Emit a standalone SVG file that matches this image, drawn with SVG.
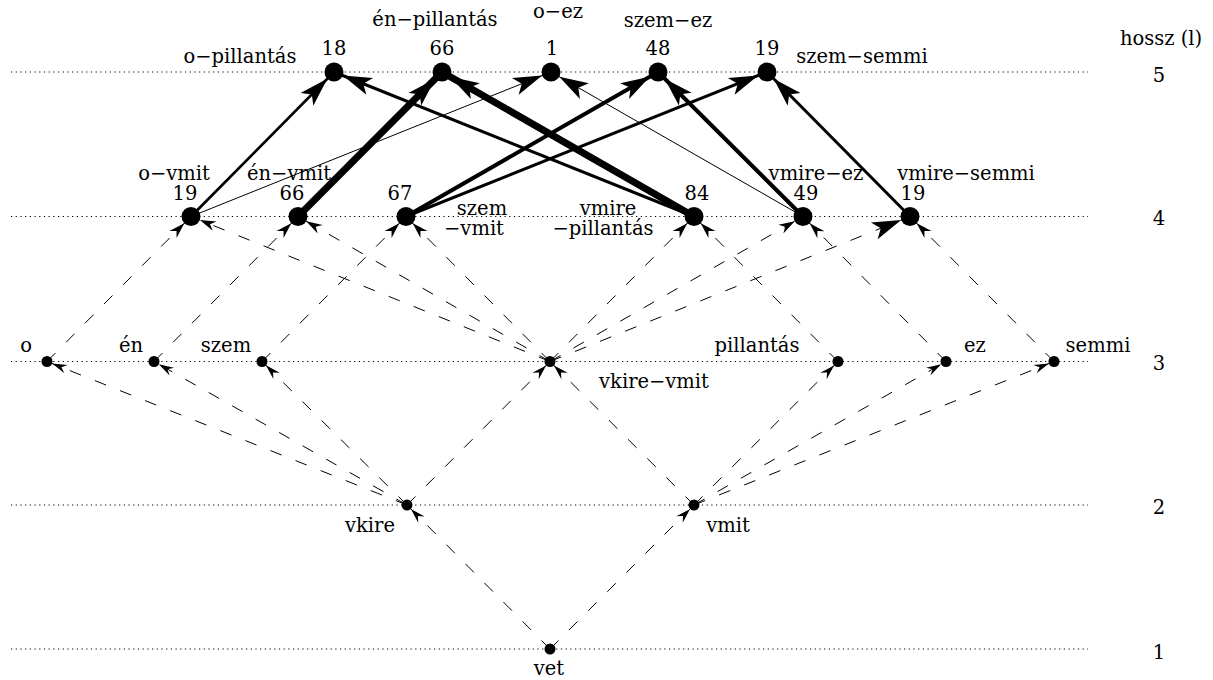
<svg xmlns="http://www.w3.org/2000/svg" width="1213" height="680" viewBox="0 0 1213 680">
<style>
.dot{stroke:#000;stroke-width:1.1;stroke-dasharray:1.2 3.5;fill:none}
.d{stroke:#000;stroke-width:1;stroke-dasharray:12 15;fill:none}
.s{stroke:#000;fill:none;marker-end:url(#ab)}
.n{fill:#000}
text{font-family:"DejaVu Serif","Liberation Serif",serif;font-size:19.5px;fill:#000;text-anchor:middle}
</style>
<defs>
<marker id="ab" markerUnits="userSpaceOnUse" orient="auto" refX="9.5" refY="0" markerWidth="1" markerHeight="1" overflow="visible"><path d="M0,0 L-29,-9 L-22,0 L-29,9 Z" fill="#000"/></marker>
<marker id="a4" markerUnits="userSpaceOnUse" orient="auto" refX="9.5" refY="0" markerWidth="1" markerHeight="1" overflow="visible"><path d="M0,0 L-16,-5 L-11,0 L-16,5 Z" fill="#000"/></marker>
<marker id="a3" markerUnits="userSpaceOnUse" orient="auto" refX="5.5" refY="0" markerWidth="1" markerHeight="1" overflow="visible"><path d="M0,0 L-15,-4.5 L-10,0 L-15,4.5 Z" fill="#000"/></marker>
</defs>
<g id="levels">
<line class="dot" x1="11" y1="72" x2="1088" y2="72"/>
<line class="dot" x1="11" y1="216.5" x2="1088" y2="216.5"/>
<line class="dot" x1="11" y1="361.5" x2="1088" y2="361.5"/>
<line class="dot" x1="11" y1="505" x2="1088" y2="505"/>
<line class="dot" x1="11" y1="649" x2="1088" y2="649"/>
</g>
<g id="connectors">
<g marker-end="url(#a3)">
<line class="d" x1="550" y1="649" x2="407" y2="505"/>
<line class="d" x1="550" y1="649" x2="694" y2="505"/>
<line class="d" x1="407" y1="505" x2="47" y2="361.5"/>
<line class="d" x1="407" y1="505" x2="154" y2="361.5"/>
<line class="d" x1="407" y1="505" x2="262" y2="361.5"/>
<line class="d" x1="407" y1="505" x2="550" y2="361.5"/>
<line class="d" x1="694" y1="505" x2="550" y2="361.5"/>
<line class="d" x1="694" y1="505" x2="838" y2="361.5"/>
<line class="d" x1="694" y1="505" x2="946" y2="361.5"/>
<line class="d" x1="694" y1="505" x2="1054" y2="361.5"/>
</g>
<g marker-end="url(#a4)">
<line class="d" x1="47" y1="361.5" x2="191" y2="216.5"/>
<line class="d" x1="550" y1="361.5" x2="191" y2="216.5"/>
<line class="d" x1="154" y1="361.5" x2="298" y2="216.5"/>
<line class="d" x1="550" y1="361.5" x2="298" y2="216.5"/>
<line class="d" x1="262" y1="361.5" x2="406" y2="216.5"/>
<line class="d" x1="550" y1="361.5" x2="406" y2="216.5"/>
<line class="d" x1="550" y1="361.5" x2="694" y2="216.5"/>
<line class="d" x1="838" y1="361.5" x2="694" y2="216.5"/>
<line class="d" x1="550" y1="361.5" x2="803" y2="216.5"/>
<line class="d" x1="946" y1="361.5" x2="803" y2="216.5"/>
<line class="d" x1="1054" y1="361.5" x2="910" y2="216.5"/>
</g>
<line class="d" x1="550" y1="361.5" x2="910" y2="216.5" marker-end="url(#ab)"/>
<line class="s" x1="191" y1="216.5" x2="334" y2="72" stroke-width="2.7"/>
<line class="s" x1="191" y1="216.5" x2="551" y2="72" stroke-width="1"/>
<line class="s" x1="298" y1="216.5" x2="442" y2="72" stroke-width="7"/>
<line class="s" x1="406" y1="216.5" x2="658" y2="72" stroke-width="4"/>
<line class="s" x1="406" y1="216.5" x2="767" y2="72" stroke-width="3"/>
<line class="s" x1="694" y1="216.5" x2="334" y2="72" stroke-width="3"/>
<line class="s" x1="694" y1="216.5" x2="442" y2="72" stroke-width="7"/>
<line class="s" x1="803" y1="216.5" x2="551" y2="72" stroke-width="1"/>
<line class="s" x1="803" y1="216.5" x2="658" y2="72" stroke-width="4"/>
<line class="s" x1="910" y1="216.5" x2="767" y2="72" stroke-width="3"/>
</g>
<g id="n-o-pillantas"><circle class="n" cx="334" cy="72" r="9.5"/><text x="240" y="63">o−pillantás</text><text x="334" y="55">18</text></g>
<g id="n-en-pillantas"><circle class="n" cx="442" cy="72" r="9.5"/><text x="435" y="26">én−pillantás</text><text x="442" y="55">66</text></g>
<g id="n-o-ez"><circle class="n" cx="551" cy="72" r="9.5"/><text x="558" y="18">o−ez</text><text x="552" y="55">1</text></g>
<g id="n-szem-ez"><circle class="n" cx="658" cy="72" r="9.5"/><text x="668" y="27">szem−ez</text><text x="658" y="55">48</text></g>
<g id="n-szem-semmi"><circle class="n" cx="767" cy="72" r="9.5"/><text x="862" y="63">szem−semmi</text><text x="767" y="55">19</text></g>
<g id="n-o-vmit"><circle class="n" cx="191" cy="216.5" r="9.5"/><text x="174" y="180">o−vmit</text><text x="185" y="200">19</text></g>
<g id="n-en-vmit"><circle class="n" cx="298" cy="216.5" r="9.5"/><text x="289" y="180">én−vmit</text><text x="292" y="200">66</text></g>
<g id="n-szem-vmit"><circle class="n" cx="406" cy="216.5" r="9.5"/><text x="400" y="200">67</text><text x="482" y="215">szem</text><text x="474" y="235">−vmit</text></g>
<g id="n-vmire-pillantas"><circle class="n" cx="694" cy="216.5" r="9.5"/><text x="697" y="200">84</text><text x="608" y="215">vmire</text><text x="603" y="235">−pillantás</text></g>
<g id="n-vmire-ez"><circle class="n" cx="803" cy="216.5" r="9.5"/><text x="816" y="180">vmire−ez</text><text x="806" y="200">49</text></g>
<g id="n-vmire-semmi"><circle class="n" cx="910" cy="216.5" r="9.5"/><text x="966" y="180">vmire−semmi</text><text x="913" y="200">19</text></g>
<g id="n-o"><circle class="n" cx="47" cy="361.5" r="5.5"/><text x="26" y="352">o</text></g>
<g id="n-en"><circle class="n" cx="154" cy="361.5" r="5.5"/><text x="131" y="352">én</text></g>
<g id="n-szem"><circle class="n" cx="262" cy="361.5" r="5.5"/><text x="226" y="352">szem</text></g>
<g id="n-vkire-vmit"><circle class="n" cx="550" cy="361.5" r="5.5"/><text x="654" y="388">vkire−vmit</text></g>
<g id="n-pillantas"><circle class="n" cx="838" cy="361.5" r="5.5"/><text x="757" y="352">pillantás</text></g>
<g id="n-ez"><circle class="n" cx="946" cy="361.5" r="5.5"/><text x="975" y="352">ez</text></g>
<g id="n-semmi"><circle class="n" cx="1054" cy="361.5" r="5.5"/><text x="1098" y="352">semmi</text></g>
<g id="n-vkire"><circle class="n" cx="407" cy="505" r="5.5"/><text x="370" y="532">vkire</text></g>
<g id="n-vmit"><circle class="n" cx="694" cy="505" r="5.5"/><text x="728" y="532">vmit</text></g>
<g id="n-vet"><circle class="n" cx="550" cy="649" r="5.5"/><text x="549" y="675">vet</text></g>
<g id="axis">
<text x="1161" y="45">hossz (l)</text>
<text x="1159" y="82">5</text>
<text x="1159" y="225">4</text>
<text x="1159" y="370">3</text>
<text x="1159" y="514">2</text>
<text x="1159" y="659">1</text>
</g>
</svg>
